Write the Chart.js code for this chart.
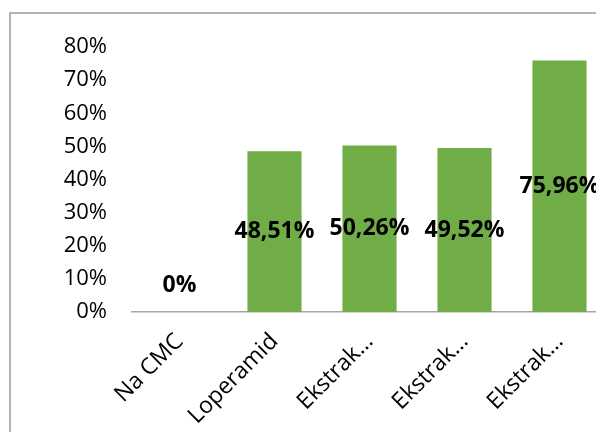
<!DOCTYPE html>
<html lang="en">
<head>
    <meta charset="UTF-8">
    <title>Chart</title>
    <style>
        html, body { margin: 0; padding: 0; background: #fff; overflow: hidden; }
        #wrap { width: 620px; height: 432px; }
    </style>
</head>
<body>
    <div id="wrap"><canvas id="chart" width="620" height="432"></canvas></div>
    <script src="https://cdn.jsdelivr.net/npm/chart.js@4/dist/chart.umd.min.js"></script>
    <script>
        const categories = ['Na CMC', 'Loperamid', 'Ekstrak…', 'Ekstrak…', 'Ekstrak…']
        const values = [0, 48.51, 50.26, 49.52, 75.96]
        const valueLabels = ['0%', '48,51%', '50,26%', '49,52%', '75,96%']
        const yTicks = [0, 10, 20, 30, 40, 50, 60, 70, 80]

        const frame = {
            id: 'frame',
            beforeDraw(chart){
                const ctx = chart.ctx
                ctx.save()
                ctx.strokeStyle = '#9a9a9a'
                ctx.lineWidth = 1.5
                ctx.strokeRect(10, 13, chart.width, chart.height)
                ctx.restore()
            }
        }

        const barLabels = {
            id: 'barLabels',
            afterDatasetsDraw(chart){
                const ctx = chart.ctx
                const meta = chart.getDatasetMeta(0)
                ctx.save()
                ctx.font = 'bold 23px "Open Sans"'
                ctx.fillStyle = '#000'
                ctx.textAlign = 'center'
                ctx.textBaseline = 'middle'
                meta.data.forEach((bar, i) => {
                    let y = (bar.y + bar.base) / 2
                    if (values[i] === 0) y = bar.base - 27
                    ctx.fillText(valueLabels[i], bar.x, y)
                })
                ctx.restore()
            }
        }

        new Chart(document.getElementById('chart'), {
            type: 'bar',
            data: {
                labels: categories,
                datasets: [{
                    data: values,
                    backgroundColor: '#70ad47',
                    categoryPercentage: 1,
                    barPercentage: 0.57
                }]
            },
            options: {
                responsive: false,
                animation: false,
                layout: { padding: { left: 0, top: 47, right: 13, bottom: 0 } },
                plugins: { legend: { display: false }, tooltip: { enabled: false } },
                scales: {
                    x: {
                        grid: { display: false, drawTicks: false },
                        border: { display: true, color: '#a6a6a6', width: 1.5 },
                        ticks: {
                            color: '#000',
                            font: { family: '"Open Sans"', size: 23 },
                            maxRotation: 45,
                            minRotation: 45,
                            padding: 16,
                            autoSkip: false
                        },
                        afterFit(scale){ scale.height = 120 }
                    },
                    y: {
                        min: 0,
                        max: 80,
                        grid: { display: false, drawTicks: false },
                        border: { display: false },
                        afterBuildTicks(scale){ scale.ticks = yTicks.map(v => ({ value: v })) },
                        ticks: {
                            color: '#000',
                            font: { family: '"Open Sans"', size: 22 },
                            padding: 25,
                            callback: v => v + '%'
                        },
                        afterFit(scale){ scale.width = 132 }
                    }
                }
            },
            plugins: [frame, barLabels]
        })
    </script>
</body>
</html>
